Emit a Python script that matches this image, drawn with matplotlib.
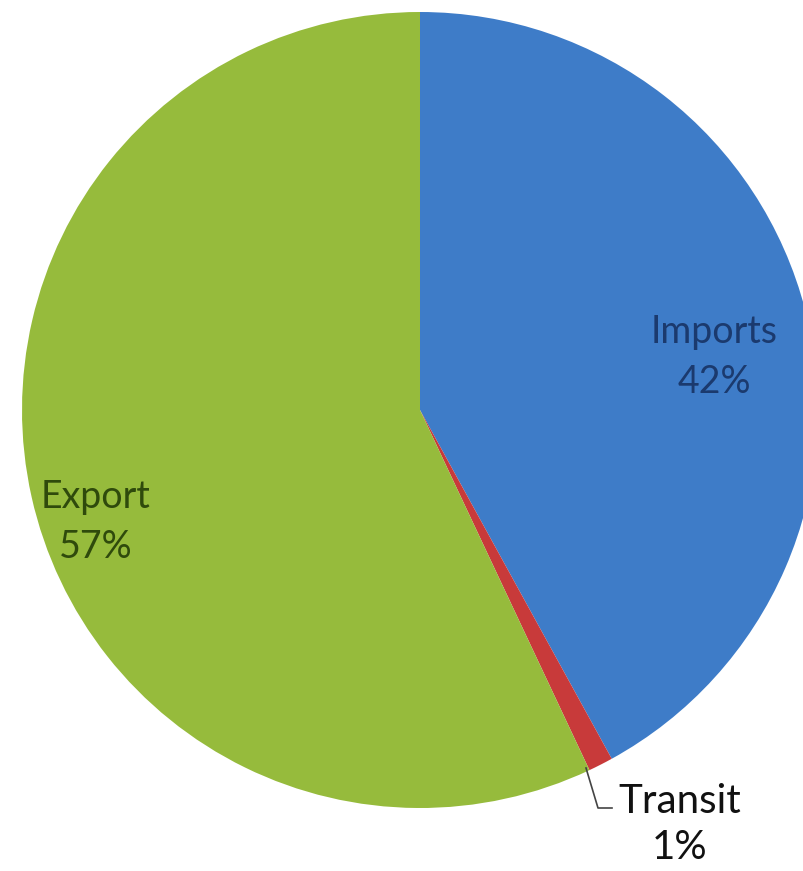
import matplotlib
matplotlib.use("Agg")
import matplotlib.pyplot as plt

categories = ["Imports", "Transit", "Export"]
values = [42, 1, 57]
colors = ["#3E7CC8", "#C83A3A", "#96BB3C"]

W, H = 804, 871
fig = plt.figure(figsize=(W / 100, H / 100), dpi=100)
ax = fig.add_axes([0, 0, 1, 1])

cx, cy, r = 420, H - 410, 398
wedges, _ = ax.pie(values, colors=colors, startangle=90, counterclock=False,
                   center=(cx, cy), radius=r, frame=True,
                   wedgeprops=dict(linewidth=0))
ax.set_xlim(0, W)
ax.set_ylim(0, H)
ax.set_aspect("equal")
ax.axis("off")

font = ["Lato", "DejaVu Sans"]
ax.text(714, H - 357, f"{categories[0]}\n{values[0]}%", ha="center", va="center",
        fontsize=27, color="#1B3A6E", family=font, linespacing=1.45)
ax.text(96, H - 522, f"{categories[2]}\n{values[2]}%", ha="center", va="center",
        fontsize=27, color="#2F4A0C", family=font, linespacing=1.45)
ax.text(680, H - 825, f"{categories[1]}\n{values[1]}%", ha="center", va="center",
        fontsize=29, color="#111111", family=font, linespacing=1.3)

ax.plot([586, 598, 612], [H - 768, H - 808, H - 808], color="#444444", lw=1.2)

fig.savefig("out.png", dpi=100)
